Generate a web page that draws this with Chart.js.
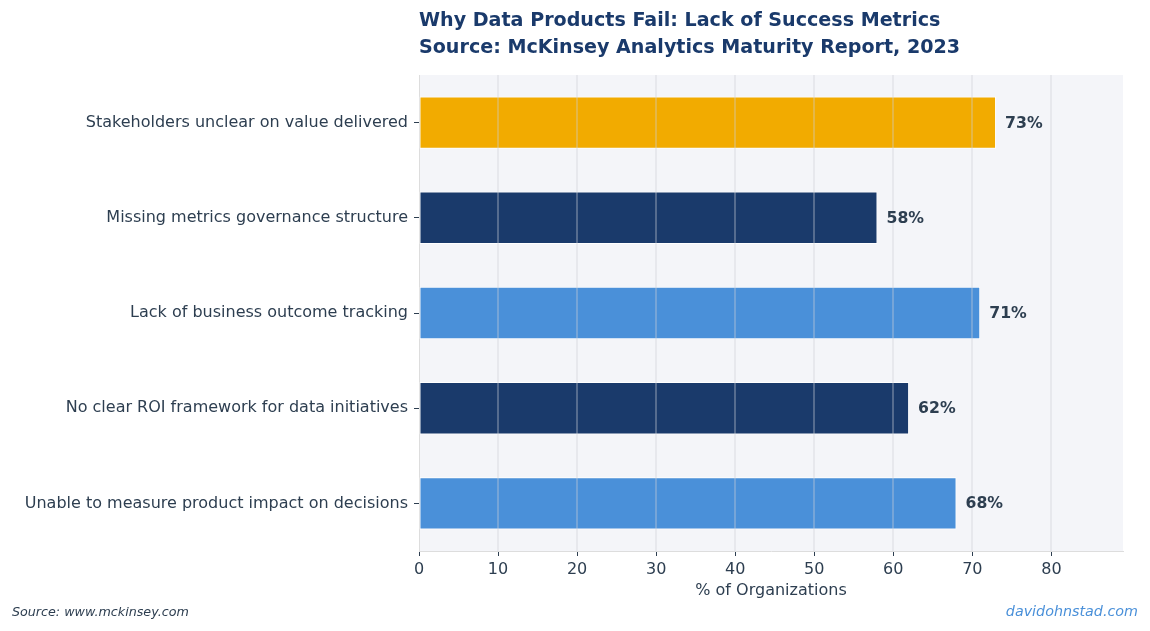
<!DOCTYPE html>
<html>
<head>
<meta charset="utf-8">
<script src="https://cdn.jsdelivr.net/npm/chart.js@4.4.1/dist/chart.umd.min.js"></script>
<style>
  html, body { margin: 0; padding: 0; background: #fff; }
  #wrap { width: 1150px; height: 631px; }
</style>
</head>
<body>
<div id="wrap"><canvas id="chart" width="1150" height="631"></canvas></div>
<script>
// data
const categories = [
    "Stakeholders unclear on value delivered",
    "Missing metrics governance structure",
    "Lack of business outcome tracking",
    "No clear ROI framework for data initiatives",
    "Unable to measure product impact on decisions"
];
const percentages = [73, 58, 71, 62, 68];
const xTicks = [0, 10, 20, 30, 40, 50, 60, 70, 80];
const barColors = ["#f2ab00", "#1a3a6b", "#4a90d9", "#1a3a6b", "#4a90d9"];

const titleLines = [
    "Why Data Products Fail: Lack of Success Metrics",
    "Source: McKinsey Analytics Maturity Report, 2023"
];

const textColor = "#2d3e50";
const font = "'DejaVu Sans', sans-serif";

// plot background, grid over bars, titles, footer, value labels
const decor = {
    id: "decor",
    beforeDraw(chart) {
        const { ctx, chartArea: a } = chart;
        ctx.save();
        ctx.fillStyle = "#f4f5f9";
        ctx.fillRect(a.left, a.top, a.right - a.left, a.bottom - a.top);
        ctx.restore();
    },
    afterDatasetsDraw(chart) {
        // grid sits on top of the bars, faintly
        const { ctx, chartArea: a, scales } = chart;
        ctx.save();
        ctx.strokeStyle = "rgba(205,208,216,0.45)";
        ctx.lineWidth = 1.5;
        scales.x.ticks.forEach(t => {
            if (t.value === 0) return;
            const px = Math.round(scales.x.getPixelForValue(t.value));
            ctx.beginPath();
            ctx.moveTo(px, a.top);
            ctx.lineTo(px, a.bottom);
            ctx.stroke();
        });
        ctx.restore();
    },
    afterDraw(chart) {
        const { ctx, chartArea: a } = chart;
        ctx.save();
        ctx.fillStyle = "#1a3a6b";
        ctx.font = "bold 19.1px " + font;
        ctx.textAlign = "left";
        ctx.textBaseline = "alphabetic";
        ctx.fillText(titleLines[0], a.left, 26);
        ctx.fillText(titleLines[1], a.left, 53);

        ctx.font = "italic 12.7px " + font;
        ctx.textBaseline = "middle";
        ctx.fillStyle = textColor;
        ctx.fillText("Source: www.mckinsey.com", 12, 613);
        ctx.textAlign = "right";
        ctx.fillStyle = "#4a90d9";
        ctx.font = "italic 14.3px " + font;
        ctx.fillText("davidohnstad.com", 1138, 612);

        // value labels
        const meta = chart.getDatasetMeta(0);
        ctx.font = "bold 15.7px " + font;
        ctx.fillStyle = textColor;
        ctx.textAlign = "left";
        meta.data.forEach((bar, i) => {
            ctx.fillText(percentages[i] + "%", bar.x + 9, bar.y + 1);
        });
        ctx.restore();
    }
};

const chart = new Chart(document.getElementById("chart"), {
    type: "bar",
    data: {
        labels: categories,
        datasets: [{
            data: percentages,
            backgroundColor: barColors,
            borderColor: "#ffffff",
            borderWidth: 1,
            borderSkipped: false,
            barPercentage: 0.55,
            categoryPercentage: 1.0
        }]
    },
    options: {
        indexAxis: "y",
        responsive: false,
        animation: false,
        layout: { padding: { top: 75, right: 27, left: 0, bottom: 0 } },
        plugins: {
            legend: { display: false },
            tooltip: { enabled: false }
        },
        scales: {
            x: {
                min: 0,
                max: 89.06,
                afterBuildTicks(scale) {
                    scale.ticks = xTicks.map(v => ({ value: v }));
                },
                afterFit(scale) { scale.height = 80; },
                border: { display: true, color: "#dddddd", width: 1 },
                grid: {
                    drawOnChartArea: false,
                    tickLength: 5,
                    tickColor: textColor,
                    tickWidth: 1
                },
                ticks: {
                    color: textColor,
                    font: { family: font, size: 16 },
                    padding: 4
                },
                title: {
                    display: true,
                    text: "% of Organizations",
                    color: textColor,
                    font: { family: font, size: 16 },
                    padding: { top: 4, bottom: 31 }
                }
            },
            y: {
                afterFit(scale) { scale.width = 419; },
                border: { display: true, color: "#dddddd", width: 1 },
                grid: {
                    offset: false,
                    drawOnChartArea: false,
                    tickLength: 5,
                    tickColor: textColor,
                    tickWidth: 1
                },
                ticks: {
                    color: textColor,
                    font: { family: font, size: 16 },
                    padding: 6
                }
            }
        }
    },
    plugins: [decor]
});
</script>
</body>
</html>
